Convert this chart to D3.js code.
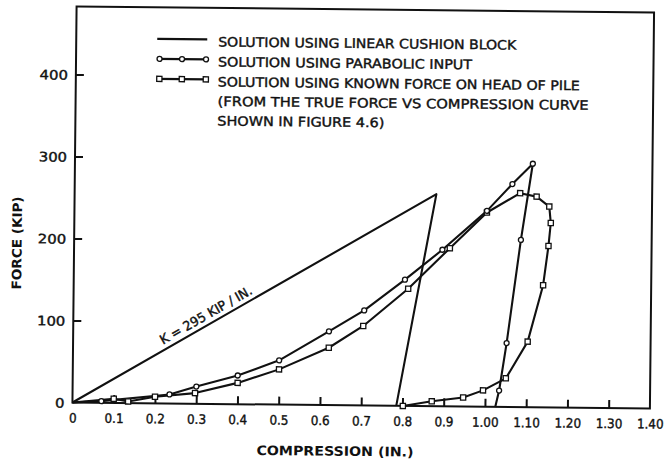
<!DOCTYPE html>
<html>
<head>
<meta charset="utf-8">
<script src="https://cdn.jsdelivr.net/npm/d3@7"></script>
<style>
  html, body { margin: 0; padding: 0; background: #fff; }
  svg { display: block; }
  text { font-family: "DejaVu Sans", "Liberation Sans", sans-serif; fill: #111; }
  .lettering { stroke: #111; stroke-width: 0.4; }
</style>
</head>
<body>
<svg id="chart" width="666" height="464"></svg>
<script>
// ---- Force vs. compression of the cushion block ----
// Linear cushion block: loading at K = 295 kip/in, then unloading
const linearCompression = [0, 0.877, 0.785];
const linearForce = [0, 258.7, 0];          // peak = 295 × 0.877

// Solution using parabolic input
const parabolicCompression = [0, 0.07, 0.235, 0.30, 0.40, 0.50, 0.62, 0.705, 0.803, 0.893, 1.00, 1.061, 1.11, 1.083, 1.051, 1.034, 1.025];
const parabolicForce       = [0, 2, 11, 21, 35, 54, 90, 116, 154, 191, 239, 272, 297, 204, 78, 20, 0];

// Solution using known force on head of pile
const knownCompression = [0, 0.10, 0.135, 0.20, 0.297, 0.40, 0.50, 0.62, 0.703, 0.811, 0.911, 1.00, 1.08, 1.12, 1.151, 1.155, 1.15, 1.138, 1.102, 1.05, 0.995, 0.947, 0.871, 0.801];
const knownForce       = [0, 5, 2, 8, 13, 26, 43, 70, 97, 143, 193, 237, 261, 257, 245, 225, 197, 149, 80, 35, 20, 11, 6, 0];

// Axis ticks
const xTickValues = [0, 0.1, 0.2, 0.3, 0.4, 0.5, 0.6, 0.7, 0.8, 0.9, 1.0, 1.1, 1.2, 1.3, 1.4];
const xTickLabels = ["0", "0.1", "0.2", "0.3", "0.4", "0.5", "0.6", "0.7", "0.8", "0.9", "1.00", "1.10", "1.20", "1.30", "1.40"];
const yTickValues = [0, 100, 200, 300, 400];
const yTickLabels = ["0", "100", "200", "300", "400"];

// Text
const legendLines = [
  "SOLUTION USING LINEAR CUSHION BLOCK",
  "SOLUTION USING PARABOLIC INPUT",
  "SOLUTION USING KNOWN FORCE ON HEAD OF PILE",
  "(FROM  THE TRUE FORCE  VS COMPRESSION CURVE",
  "SHOWN IN FIGURE 4.6)"
];
const stiffnessLabel = "K = 295 KIP / IN.";
const xTitle = "COMPRESSION (IN.)";
const yTitle = "FORCE (KIP)";

// ---- Layout ----
const frame = { left: 74.5, right: 652, top: 9.5, bottom: 405.5 };
const ink = "#111";
const legendTextWidths = [298, 254, 362, 371, 167];

const svg = d3.select("#chart");
// the whole sheet sits very slightly turned
const g = svg.append("g").attr("transform", "rotate(0.6 363 207)");

const x = d3.scaleLinear().domain([0, 1.4]).range([frame.left, frame.right]);
const y = d3.scaleLinear().domain([0, 483]).range([frame.bottom, frame.top]);

// Frame
g.append("rect")
  .attr("x", frame.left).attr("y", frame.top)
  .attr("width", frame.right - frame.left).attr("height", frame.bottom - frame.top)
  .attr("fill", "none").attr("stroke", ink).attr("stroke-width", 2);

// X axis (ticks point inward)
const xAxis = g.append("g")
  .attr("transform", `translate(0,${frame.bottom})`)
  .call(d3.axisBottom(x).tickValues(xTickValues)
    .tickFormat((d, i) => xTickLabels[i]).tickSizeInner(-8).tickSizeOuter(0));
xAxis.select(".domain").remove();
xAxis.selectAll(".tick line").attr("stroke", ink).attr("stroke-width", 2)
  .filter(d => d === 0 || d === 1.4).remove();
xAxis.selectAll(".tick text")
  .attr("class", "lettering")
  .attr("y", 20).attr("dy", null)
  .attr("transform", "scale(0.92,1)")
  .attr("font-size", 13).attr("fill", ink);

// Y axis (ticks point inward)
const yAxis = g.append("g")
  .attr("transform", `translate(${frame.left},0)`)
  .call(d3.axisLeft(y).tickValues(yTickValues)
    .tickFormat((d, i) => yTickLabels[i]).tickSizeInner(-8).tickSizeOuter(0));
yAxis.select(".domain").remove();
yAxis.selectAll(".tick line").attr("stroke", ink).attr("stroke-width", 2)
  .filter(d => d === 0).remove();
yAxis.selectAll(".tick text")
  .attr("class", "lettering")
  .attr("x", -7).attr("dy", "0.36em")
  .attr("transform", "scale(1.14,1)")
  .attr("font-size", 13).attr("fill", ink);

// Axis titles
g.append("text")
  .attr("x", 337.5).attr("y", 456)
  .attr("text-anchor", "middle")
  .attr("font-size", 13).attr("font-weight", "bold")
  .attr("textLength", 157).attr("lengthAdjust", "spacingAndGlyphs")
  .text(xTitle);

g.append("text")
  .attr("transform", "translate(22,246.5) rotate(-90)")
  .attr("text-anchor", "middle")
  .attr("font-size", 13).attr("font-weight", "bold")
  .attr("textLength", 93).attr("lengthAdjust", "spacingAndGlyphs")
  .text(yTitle);

// ---- Curves ----
const line = d3.line().x(d => x(d[0])).y(d => y(d[1]));
const pairs = (xs, ys) => xs.map((v, i) => [v, ys[i]]);

const linearPts = pairs(linearCompression, linearForce);
const parabolicPts = pairs(parabolicCompression, parabolicForce);
const knownPts = pairs(knownCompression, knownForce);

[linearPts, parabolicPts, knownPts].forEach(pts => {
  g.append("path").datum(pts)
    .attr("d", line)
    .attr("fill", "none").attr("stroke", ink)
    .attr("stroke-width", 2.1).attr("stroke-linejoin", "round");
});

function drawCircles(sel, pts) {
  sel.selectAll(null).data(pts).enter().append("circle")
    .attr("cx", d => x(d[0])).attr("cy", d => y(d[1])).attr("r", 2.5)
    .attr("fill", "#fff").attr("stroke", ink).attr("stroke-width", 1.3);
}
function drawSquares(sel, pts) {
  sel.selectAll(null).data(pts).enter().append("rect")
    .attr("x", d => x(d[0]) - 2.6).attr("y", d => y(d[1]) - 2.6)
    .attr("width", 5.2).attr("height", 5.2)
    .attr("fill", "#fff").attr("stroke", ink).attr("stroke-width", 1.3);
}
drawSquares(g.append("g"), knownPts.slice(1));
drawCircles(g.append("g"), parabolicPts.slice(1, -1));

// Stiffness annotation along the loading line
const ang = Math.atan2(y(linearForce[1]) - y(0), x(linearCompression[1]) - x(0));
const t = 0.333 / linearCompression[1];
const ax = x(0) + t * (x(linearCompression[1]) - x(0));
const ay = y(0) + t * (y(linearForce[1]) - y(0));
const off = 5;
g.append("text")
  .attr("class", "lettering")
  .attr("transform", `translate(${ax + Math.sin(ang) * off},${ay - Math.cos(ang) * off}) rotate(${ang * 180 / Math.PI})`)
  .attr("text-anchor", "middle")
  .attr("font-size", 13)
  .attr("textLength", 104).attr("lengthAdjust", "spacingAndGlyphs")
  .text(stiffnessLabel);

// ---- Legend ----
const legendX0 = 155.5, legendX1 = 205.5, legendTextX = 216.5;
const sampleY = [41, 61, 81];
const textY = [48, 68, 88, 107.5, 127];

sampleY.forEach(sy => {
  g.append("line")
    .attr("x1", legendX0).attr("x2", legendX1).attr("y1", sy).attr("y2", sy)
    .attr("stroke", ink).attr("stroke-width", 2.1);
});
const sampleXs = [legendX0 + 2.5, (legendX0 + legendX1) / 2, legendX1 - 1];
g.append("g").selectAll("circle").data(sampleXs).enter().append("circle")
  .attr("cx", d => d).attr("cy", sampleY[1]).attr("r", 2.5)
  .attr("fill", "#fff").attr("stroke", ink).attr("stroke-width", 1.3);
g.append("g").selectAll("rect").data(sampleXs).enter().append("rect")
  .attr("x", d => d - 2.6).attr("y", sampleY[2] - 2.6).attr("width", 5.2).attr("height", 5.2)
  .attr("fill", "#fff").attr("stroke", ink).attr("stroke-width", 1.3);

legendLines.forEach((s, i) => {
  g.append("text")
    .attr("class", "lettering")
    .attr("x", legendTextX).attr("y", textY[i])
    .attr("font-size", 13)
    .attr("textLength", legendTextWidths[i]).attr("lengthAdjust", "spacingAndGlyphs")
    .text(s);
});
</script>
</body>
</html>
